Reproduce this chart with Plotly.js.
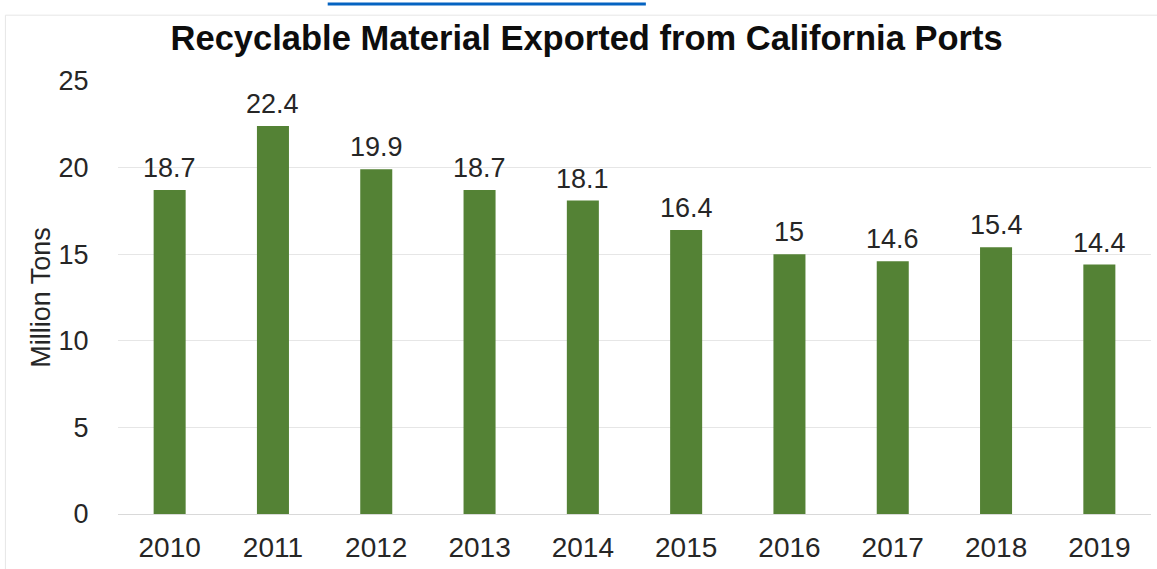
<!DOCTYPE html>
<html>
<head>
<meta charset="utf-8">
<script src="https://cdn.plot.ly/plotly-3.0.1.min.js"></script>
<style>
html,body{margin:0;padding:0;background:#fff;}
#chart{width:1157px;height:569px;}
</style>
</head>
<body>
<div id="chart"></div>
<script>
var years = ["2010","2011","2012","2013","2014","2015","2016","2017","2018","2019"];
var tons = [18.7, 22.4, 19.9, 18.7, 18.1, 16.4, 15, 14.6, 15.4, 14.4];
var labels = ["18.7","22.4","19.9","18.7","18.1","16.4","15","14.6","15.4","14.4"];

var FONT = "Liberation Sans, Arial, sans-serif";

var trace = {
  type: "bar",
  x: years,
  y: tons,
  marker: {color: "#548235"},
  hoverinfo: "x+y"
};

// category index positions on the category axis
var annotations = years.map(function (yr, i) {
  return {
    x: i, y: tons[i], xref: "x", yref: "y",
    text: labels[i], showarrow: false,
    yanchor: "bottom", yshift: 5,
    font: {family: FONT, size: 27, color: "#262626"}
  };
});

var layout = {
  width: 1157,
  height: 569,
  margin: {l: 118, r: 6, t: 81, b: 55},
  paper_bgcolor: "#ffffff",
  plot_bgcolor: "#ffffff",
  bargap: 0.69,
  showlegend: false,
  title: {
    text: "<b>Recyclable Material Exported from California Ports</b>",
    font: {family: FONT, size: 34.5, color: "#0d0d0d"},
    x: 0.507, xanchor: "center",
    y: 0.933, yanchor: "middle"
  },
  xaxis: {
    type: "category",
    categoryorder: "array",
    categoryarray: years,
    range: [-0.5, years.length - 0.5],
    autorange: false,
    tickfont: {family: FONT, size: 28, color: "#262626"},
    showgrid: false,
    showline: true,
    linecolor: "#d9d9d9",
    linewidth: 1,
    ticks: "outside",
    ticklen: 8,
    tickcolor: "rgba(0,0,0,0)",
    automargin: false
  },
  yaxis: {
    range: [0, 25],
    autorange: false,
    dtick: 5,
    tick0: 0,
    tickfont: {family: FONT, size: 27, color: "#262626"},
    showgrid: true,
    gridcolor: "#e6e6e6",
    gridwidth: 1,
    zeroline: false,
    showline: false,
    ticks: "outside",
    ticklen: 23,
    tickcolor: "rgba(0,0,0,0)",
    automargin: false,
    title: {
      text: "Million Tons",
      font: {family: FONT, size: 27, color: "#262626"},
      standoff: 0
    }
  },
  annotations: annotations,
  shapes: [
    {type: "rect", xref: "paper", yref: "paper", x0: -0.109, x1: 1.01, y0: -0.2, y1: 1.152,
     line: {color: "#e6e6e6", width: 1}, fillcolor: "rgba(0,0,0,0)", layer: "below"},
    {type: "line", xref: "paper", yref: "paper", x0: 0.203, x1: 0.511, y0: 1.178, y1: 1.178,
     line: {color: "#0563c1", width: 3}}
  ]
};

Plotly.newPlot("chart", [trace], layout, {displayModeBar: false, staticPlot: true});
</script>
</body>
</html>
